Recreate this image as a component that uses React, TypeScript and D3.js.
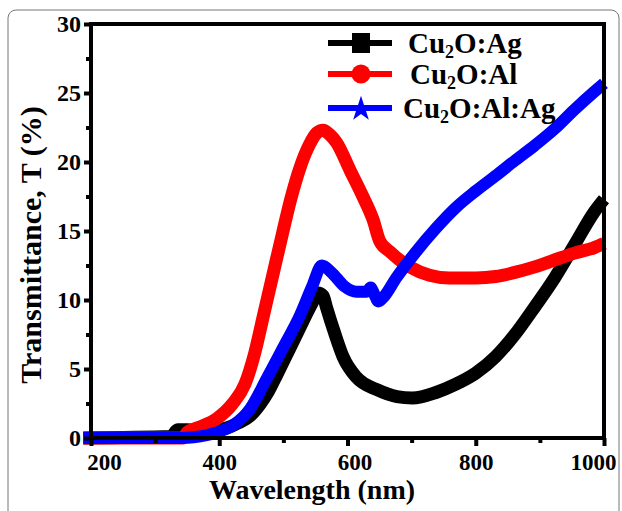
import React, { useEffect, useRef } from 'react';
import * as d3 from 'd3';

// Cu2O:Ag
const agWl = [188, 325, 335, 350, 380, 410, 430, 448, 463, 477, 490, 510, 531, 545, 554, 562, 567, 580, 593, 614, 646, 677, 701, 738, 769, 800, 831, 861, 892, 923, 954, 985, 1000];
const agT = [0, 0.1, 0.6, 0.6, 0.5, 0.7, 1.1, 1.6, 2.4, 3.4, 4.6, 6.5, 8.5, 9.8, 10.5, 10.3, 9.5, 7.6, 5.9, 4.4, 3.5, 3.0, 2.9, 3.3, 3.9, 4.7, 5.9, 7.5, 9.5, 11.6, 14.0, 16.4, 17.3];

// Cu2O:Al
const alWl = [188, 343, 350, 370, 396, 421, 440, 455, 470, 485, 499, 512, 526, 540, 552, 562, 572, 583, 604, 624, 640, 650, 666, 697, 728, 759, 800, 831, 861, 892, 923, 954, 985, 1000];
const alT = [0, 0, 0.4, 0.8, 1.4, 2.5, 3.9, 6.1, 9.1, 12.1, 14.9, 17.4, 19.6, 21.2, 22.1, 22.3, 22.0, 21.4, 19.4, 17.5, 15.8, 14.3, 13.5, 12.4, 11.8, 11.6, 11.6, 11.7, 12.0, 12.4, 12.9, 13.4, 13.8, 14.1];

// Cu2O:Al:Ag
const alAgWl = [188, 343, 360, 380, 396, 421, 448, 474, 499, 526, 545, 560, 575, 595, 614, 630, 636, 642, 648, 656, 676, 707, 738, 769, 800, 831, 861, 892, 923, 954, 985, 1000];
const alAgT = [0, 0, 0.05, 0.2, 0.4, 0.9, 2.1, 4.3, 6.5, 8.9, 11.0, 12.5, 12.0, 11.0, 10.6, 10.6, 10.9, 10.4, 9.9, 10.2, 11.6, 13.5, 15.2, 16.7, 17.9, 19.0, 20.1, 21.2, 22.4, 23.8, 25.1, 25.7];

const legendNames = ['Ag', 'Al', 'Al:Ag']; // shown as Cu2O:<name>
const seriesColors = ['#000000', '#ff0000', '#0000ff'];
const markerKinds = ['square', 'circle', 'star'];

const xMajor = [200, 400, 600, 800, 1000];
const xMinor = [300, 500, 700, 900];
const yMajor = [0, 5, 10, 15, 20, 25, 30];
const yMinor = [2.5, 7.5, 12.5, 17.5, 22.5, 27.5];

const W = 622;
const H = 511;
const m = { left: 91, right: 604, top: 24, bottom: 438 };
const FONT = '"Liberation Serif", "Times New Roman", serif';

export default function App() {
  const ref = useRef<SVGSVGElement>(null);

  useEffect(() => {
    const svg = d3.select(ref.current);
    svg.selectAll('*').remove();

    const x = d3.scaleLinear().domain([200, 1000]).range([m.left, m.right]);
    const y = d3.scaleLinear().domain([0, 30]).range([m.bottom, m.top]);

    // outer rounded frame of the figure
    svg.append('rect')
      .attr('x', 8).attr('y', 10)
      .attr('width', 611).attr('height', 520)
      .attr('rx', 8)
      .attr('fill', 'none')
      .attr('stroke', '#777')
      .attr('stroke-width', 1);

    // curves
    const series = [
      { wl: agWl, t: agT, w: 13 },
      { wl: alWl, t: alT, w: 13 },
      { wl: alAgWl, t: alAgT, w: 12 }
    ];
    const line = d3.line<[number, number]>()
      .x(d => x(d[0]))
      .y(d => y(d[1]))
      .curve(d3.curveMonotoneX);

    series.forEach((s, i) => {
      const pts = s.wl.map((w, j) => [w, s.t[j]] as [number, number]);
      svg.append('path')
        .attr('d', line(pts))
        .attr('fill', 'none')
        .attr('stroke', seriesColors[i])
        .attr('stroke-width', s.w)
        .attr('stroke-linejoin', 'round')
        .attr('stroke-linecap', 'butt');
    });

    // frame
    svg.append('rect')
      .attr('x', m.left).attr('y', m.top)
      .attr('width', m.right - m.left).attr('height', m.bottom - m.top)
      .attr('fill', 'none')
      .attr('stroke', '#000')
      .attr('stroke-width', 4);

    // x axis
    const xAxis = svg.append('g')
      .attr('transform', `translate(0, ${m.bottom})`)
      .call(d3.axisBottom(x).tickValues(xMajor).tickFormat(d3.format('d')).tickSize(8).tickSizeOuter(0).tickPadding(8));
    xAxis.select('.domain').remove();
    xAxis.selectAll('line').attr('stroke-width', 4);
    xAxis.selectAll('text')
      .attr('font-family', FONT)
      .attr('font-weight', 'bold')
      .attr('font-size', 23)
      .attr('fill', '#000')
      .attr('dx', (d: any) => (d === 200 ? 13 : d === 600 ? 7 : d === 1000 ? -11 : 0))
      .attr('dy', '0.71em');

    const xMinorG = svg.append('g')
      .attr('transform', `translate(0, ${m.bottom})`)
      .call(d3.axisBottom(x).tickValues(xMinor).tickSize(5).tickFormat(() => ''));
    xMinorG.select('.domain').remove();
    xMinorG.selectAll('line').attr('stroke-width', 4);

    // y axis
    const yAxis = svg.append('g')
      .attr('transform', `translate(${m.left}, 0)`)
      .call(d3.axisLeft(y).tickValues(yMajor).tickSize(7).tickSizeOuter(0).tickPadding(3));
    yAxis.select('.domain').remove();
    yAxis.selectAll('line').attr('stroke-width', 4);
    yAxis.selectAll('text')
      .attr('font-family', FONT)
      .attr('font-weight', 'bold')
      .attr('font-size', 24)
      .attr('fill', '#000');

    const yMinorG = svg.append('g')
      .attr('transform', `translate(${m.left}, 0)`)
      .call(d3.axisLeft(y).tickValues(yMinor).tickSize(5).tickFormat(() => ''));
    yMinorG.select('.domain').remove();
    yMinorG.selectAll('line').attr('stroke-width', 4);

    // axis titles
    svg.append('text')
      .attr('x', 312).attr('y', 499)
      .attr('text-anchor', 'middle')
      .attr('font-family', FONT)
      .attr('font-weight', 'bold')
      .attr('font-size', 28)
      .text('Wavelength (nm)');

    svg.append('text')
      .attr('transform', `translate(41, ${(m.top + m.bottom) / 2 + 14}) rotate(-90)`)
      .attr('text-anchor', 'middle')
      .attr('font-family', FONT)
      .attr('font-weight', 'bold')
      .attr('font-size', 30)
      .text('Transmittance, T (%)');

    // legend
    const rowY = [43, 74, 108];
    const textX = [408, 410, 403];
    const star = d3.symbol().type(d3.symbolStar).size(200);
    legendNames.forEach((name, i) => {
      const g = svg.append('g');
      const ly = rowY[i];
      g.append('line')
        .attr('x1', 328).attr('x2', 392)
        .attr('y1', ly).attr('y2', ly)
        .attr('stroke', seriesColors[i])
        .attr('stroke-width', 6);
      if (markerKinds[i] === 'square') {
        g.append('rect')
          .attr('x', 352).attr('y', ly - 10)
          .attr('width', 18).attr('height', 20)
          .attr('fill', seriesColors[i]);
      } else if (markerKinds[i] === 'circle') {
        g.append('circle')
          .attr('cx', 361).attr('cy', ly)
          .attr('r', 9.5)
          .attr('fill', seriesColors[i]);
      } else {
        g.append('path')
          .attr('d', star())
          .attr('transform', `translate(361, ${ly + 1})`)
          .attr('fill', seriesColors[i]);
      }
      const t = g.append('text')
        .attr('x', textX[i]).attr('y', ly + 10)
        .attr('font-family', FONT)
        .attr('font-weight', 'bold')
        .attr('font-size', 29)
        .attr('fill', '#000');
      t.append('tspan').text('Cu');
      t.append('tspan').attr('font-size', 18).attr('dy', 5).text('2');
      t.append('tspan').attr('dy', -5).text(`O:${name}`);
    });
  }, []);

  return (
    <svg
      ref={ref}
      width={W}
      height={H}
      style={{ position: 'absolute', left: 0, top: 0, background: '#fff' }}
    />
  );
}
